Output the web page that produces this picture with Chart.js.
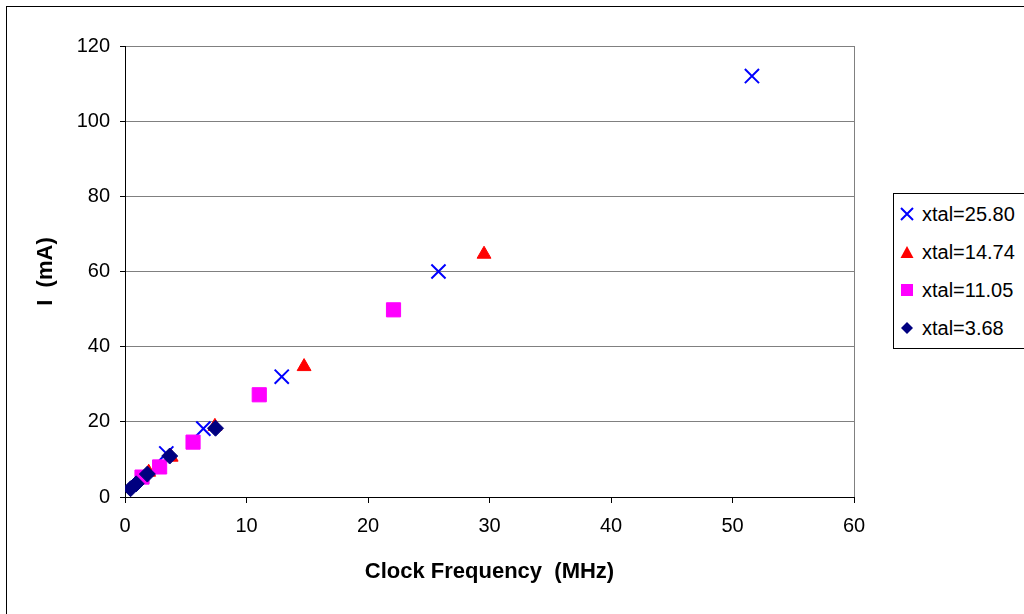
<!DOCTYPE html>
<html>
<head>
<meta charset="utf-8">
<script src="https://cdn.jsdelivr.net/npm/chart.js@4"></script>
<style>
  html, body { margin: 0; padding: 0; background: #fff; overflow: hidden; }
  #frame { position: absolute; left: 6px; top: 6px; width: 1200px; height: 800px; border: 1px solid #000; }
  #chart { position: absolute; left: 0; top: 0; }
  #legend {
    position: absolute; left: 893px; top: 193px; width: 200px; height: 154px;
    border: 1px solid #000; background: #fff;
    font-family: Arial, "Liberation Sans", sans-serif; font-size: 20px; color: #000;
  }
  .item { position: absolute; left: 0; height: 24px; line-height: 24px; white-space: nowrap; }
  .item svg { position: absolute; left: 6px; top: 5px; }
  .item span { position: absolute; left: 28px; top: 0; }
</style>
</head>
<body>
<div id="frame"></div>
<canvas id="chart" width="1024" height="614"></canvas>
<div id="legend"></div>
<script>
// -------------------------------
// Data
// -------------------------------
const seriesLabels = ["xtal=25.80", "xtal=14.74", "xtal=11.05", "xtal=3.68"];

const xtal2580X = [51.6, 25.8, 12.9, 6.45, 3.4];
const xtal2580Y = [112, 60, 32, 18.2, 11.6];

const xtal1474X = [29.55, 14.74, 7.4, 3.8, 1.95];
const xtal1474Y = [64.6, 34.7, 18.8, 10.6, 6.6];

const xtal1105X = [22.1, 11.05, 5.6, 2.85, 1.4];
const xtal1105Y = [49.8, 27.2, 14.6, 8.0, 5.3];

const xtal368X = [7.45, 3.68, 1.84, 0.92, 0.46];
const xtal368Y = [18.3, 10.9, 6.1, 3.5, 2.2];

const xTicks = [0, 10, 20, 30, 40, 50, 60];
const yTicks = [0, 20, 40, 60, 80, 100, 120];

const FONT = "Arial, 'Liberation Sans', sans-serif";

function toPoints(xs, ys) {
  return xs.map((x, i) => ({ x: x, y: ys[i] }));
}

// -------------------------------
// Datasets
// -------------------------------
const styles = [
  { color: "#0000FF", point: "crossRot", radius: 10, border: 2 },
  { color: "#FF0000", point: "triangle", radius: 8, border: 1 },
  { color: "#FF00FF", point: "rect", radius: 10, border: 1 },
  { color: "#000080", point: "rectRot", radius: 8, border: 1 },
];
const seriesData = [
  toPoints(xtal2580X, xtal2580Y),
  toPoints(xtal1474X, xtal1474Y),
  toPoints(xtal1105X, xtal1105Y),
  toPoints(xtal368X, xtal368Y),
];

const datasets = seriesLabels.map((label, i) => ({
  label: label,
  data: seriesData[i],
  pointStyle: styles[i].point,
  pointRadius: styles[i].radius,
  pointHoverRadius: styles[i].radius,
  pointBorderWidth: styles[i].border,
  borderColor: styles[i].color,
  backgroundColor: styles[i].color,
  showLine: false,
  order: seriesLabels.length - i, // last series drawn on top
}));

// gray frame on the right side of the plot area
const plotFrame = {
  id: "plotFrame",
  beforeDatasetsDraw(chart) {
    const { ctx, chartArea } = chart;
    ctx.save();
    ctx.strokeStyle = "#808080";
    ctx.lineWidth = 1;
    ctx.beginPath();
    ctx.moveTo(Math.round(chartArea.right) + 0.5, chartArea.top);
    ctx.lineTo(Math.round(chartArea.right) + 0.5, chartArea.bottom);
    ctx.stroke();
    ctx.restore();
  },
};

new Chart(document.getElementById("chart"), {
  type: "scatter",
  data: { datasets },
  plugins: [plotFrame],
  options: {
    responsive: false,
    animation: false,
    layout: { padding: { top: 46, right: 170, bottom: 0, left: 0 } },
    plugins: {
      legend: { display: false },
      tooltip: { enabled: false },
    },
    scales: {
      x: {
        type: "linear",
        min: xTicks[0],
        max: xTicks[xTicks.length - 1],
        afterFit: (scale) => { scale.height = 117; },
        afterBuildTicks: (scale) => { scale.ticks = xTicks.map((v) => ({ value: v })); },
        grid: { drawOnChartArea: false, tickLength: 6, tickColor: "#000" },
        border: { color: "#000", width: 1 },
        ticks: { color: "#000", padding: 11, font: { family: FONT, size: 20 } },
        title: {
          display: true,
          text: "Clock Frequency  (MHz)",
          color: "#000",
          font: { family: FONT, size: 22, weight: "bold" },
          padding: { top: 0, bottom: 29 },
        },
      },
      y: {
        type: "linear",
        min: yTicks[0],
        max: yTicks[yTicks.length - 1],
        afterFit: (scale) => { scale.width = 125; },
        afterBuildTicks: (scale) => { scale.ticks = yTicks.map((v) => ({ value: v })); },
        grid: { color: "#808080", lineWidth: 1, tickLength: 5, tickColor: "#000" },
        border: { color: "#000", width: 1 },
        ticks: { color: "#000", padding: 10, font: { family: FONT, size: 20 } },
        title: {
          display: true,
          text: "I  (mA)",
          color: "#000",
          font: { family: FONT, size: 22, weight: "bold" },
          padding: { top: 33, bottom: 0 },
        },
      },
    },
  },
});

// -------------------------------
// Legend (html, boxed on the right)
// -------------------------------
function legendIcon(style) {
  const c = style.color;
  let shape = "";
  if (style.point === "crossRot") {
    shape = `<path d="M1 1 L13 13 M13 1 L1 13" stroke="${c}" stroke-width="2"/>`;
  } else if (style.point === "triangle") {
    shape = `<polygon points="7,1 13.5,13 0.5,13" fill="${c}"/>`;
  } else if (style.point === "rect") {
    shape = `<rect x="1" y="1" width="12" height="12" fill="${c}"/>`;
  } else {
    shape = `<polygon points="7,1 13,7 7,13 1,7" fill="${c}"/>`;
  }
  return `<svg width="14" height="14" viewBox="0 0 14 14">${shape}</svg>`;
}

const legend = document.getElementById("legend");
seriesLabels.forEach((label, i) => {
  const row = document.createElement("div");
  row.className = "item";
  row.style.top = 8 + i * 38 + "px";
  row.innerHTML = legendIcon(styles[i]) + `<span>${label}</span>`;
  legend.appendChild(row);
});
</script>
</body>
</html>
